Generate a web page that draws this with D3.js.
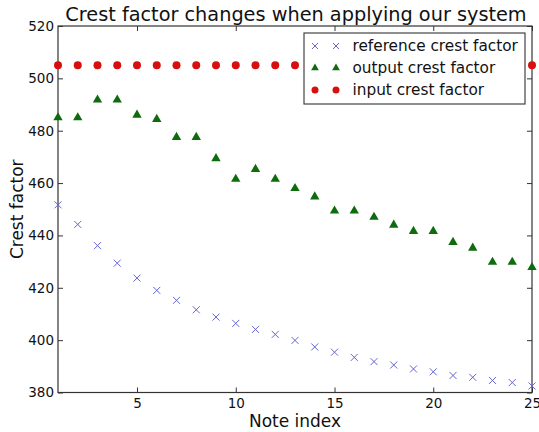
<!DOCTYPE html>
<html>
<head>
<meta charset="utf-8">
<script src="https://cdn.jsdelivr.net/npm/d3@7"></script>
<style>
  body { margin: 0; background: #fff; }
  text { font-family: "DejaVu Sans", sans-serif; fill: #111; }
</style>
</head>
<body>
<div id="chart"></div>
<script>
// note indices 1..25
var noteIndex = d3.range(1, 26)
var referenceCrest = [451.7, 444.2, 436.1, 429.4, 423.7, 419.0, 415.2, 411.6, 408.8, 406.4,
                      404.1, 402.2, 399.9, 397.4, 395.4, 393.4, 391.8, 390.5, 389.0, 387.9,
                      386.5, 385.8, 384.6, 383.8, 382.5]
var outputCrest = [485.0, 485.0, 491.8, 491.8, 486.0, 484.4, 477.5, 477.5, 469.4, 461.5,
                   465.3, 461.5, 458.0, 454.8, 449.4, 449.4, 447.0, 444.0, 441.6, 441.6,
                   437.4, 435.2, 429.8, 429.8, 427.8]
var inputCrest = [505, 505, 505, 505, 505, 505, 505, 505, 505, 505, 505, 505, 505,
                  505, 505, 505, 505, 505, 505, 505, 505, 505, 505, 505, 505]
var xTicks = [5, 10, 15, 20, 25]
var yTicks = [380, 400, 420, 440, 460, 480, 500, 520]
var seriesNames = ["reference crest factor", "output crest factor", "input crest factor"]

var margin = {top: 26, right: 7, bottom: 39.5, left: 58},
    W = 539, H = 432,
    width = W - margin.left - margin.right,
    height = H - margin.top - margin.bottom;

var svg = d3.select('#chart').append('svg')
    .attr('width', W)
    .attr('height', H)
var g = svg.append('g')
    .attr('transform', "translate(" + margin.left + "," + margin.top + ")")

var x = d3.scaleLinear().domain([1, 25]).range([0, width])
var y = d3.scaleLinear().domain([380, 520]).range([height, 0])

var axisColor = "#333"
var tickLen = 5

// bottom / top / left / right axes with inward ticks
var axBottom = g.append("g").attr("transform", "translate(0," + height + ")")
    .call(d3.axisBottom(x).tickValues(xTicks).tickSize(-tickLen).tickPadding(6).tickFormat(d3.format("d")))
var axTop = g.append("g")
    .call(d3.axisTop(x).tickValues(xTicks).tickSize(-tickLen).tickFormat(""))
var axLeft = g.append("g")
    .call(d3.axisLeft(y).tickValues(yTicks).tickSize(-tickLen).tickPadding(4))
var axRight = g.append("g").attr("transform", "translate(" + width + ",0)")
    .call(d3.axisRight(y).tickValues(yTicks).tickSize(-tickLen).tickFormat(""))

;[axBottom, axTop, axLeft, axRight].forEach(function(a) {
  a.select(".domain").remove()
  a.selectAll("line").attr("stroke", axisColor)
  a.selectAll("text").style("font-size", "13.5px").style("font-family", "DejaVu Sans").attr("fill", "#222")
})

g.append("rect").attr("width", width).attr("height", height)
  .attr("fill", "none").attr("stroke", axisColor).attr("stroke-width", 1.2)

var marks = g.append("g")

var blue = "#6464d2", green = "#0e6b0e", red = "#d60f0f"

function cross(sel, s) {
  return sel.append("path").attr("d", "M" + -s + "," + -s + "L" + s + "," + s + "M" + -s + "," + s + "L" + s + "," + -s)
    .attr("stroke", blue).attr("stroke-width", 1).attr("fill", "none")
}
function tri(sel, s) {
  return sel.append("path").attr("d", d3.symbol().type(d3.symbolTriangle).size(s)())
    .attr("fill", green)
}
function dot(sel, r) {
  return sel.append("circle").attr("r", r).attr("fill", red)
}

noteIndex.forEach(function(n, i) {
  cross(marks.append("g").attr("transform", "translate(" + x(n) + "," + y(referenceCrest[i]) + ")"), 3.5)
  tri(marks.append("g").attr("transform", "translate(" + x(n) + "," + y(outputCrest[i]) + ")"), 38)
  dot(marks.append("g").attr("transform", "translate(" + x(n) + "," + y(inputCrest[i]) + ")"), 4)
})

// legend
var lg = g.append("g").attr("transform", "translate(" + (304 - margin.left) + "," + (33 - margin.top) + ")")
lg.append("rect").attr("width", 221).attr("height", 71).attr("fill", "#fff")
  .attr("stroke", "#444").attr("stroke-width", 1.2)
var drawers = [function(s) { cross(s, 3) }, function(s) { tri(s, 26) }, function(s) { dot(s, 3.5) }]
seriesNames.forEach(function(name, i) {
  var row = 13 + i * 22
  drawers[i](lg.append("g").attr("transform", "translate(11," + row + ")"))
  drawers[i](lg.append("g").attr("transform", "translate(32," + row + ")"))
  lg.append("text").attr("x", 48.5).attr("y", row).attr("dy", "0.35em")
    .style("font-size", "15.3px").text(name)
})

svg.append("text").attr("x", margin.left + width / 2 + 1).attr("y", 21)
  .attr("text-anchor", "middle").style("font-size", "19.3px").text("Crest factor changes when applying our system")
svg.append("text").attr("x", margin.left + width / 2).attr("y", 427)
  .attr("text-anchor", "middle").style("font-size", "17px").text("Note index")
svg.append("text").attr("transform", "translate(23," + (margin.top + height / 2) + ") rotate(-90)")
  .attr("text-anchor", "middle").style("font-size", "17px").text("Crest factor")
</script>
</body>
</html>
